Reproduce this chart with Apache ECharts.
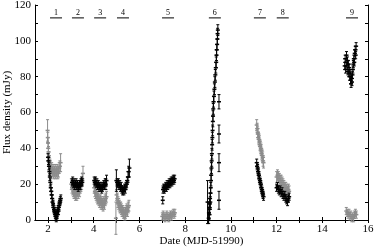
<!DOCTYPE html>
<html><head><meta charset="utf-8">
<script src="https://cdn.jsdelivr.net/npm/echarts@6/dist/echarts.min.js"></script>
<style>html,body{margin:0;padding:0;background:#fff}#c{width:374px;height:248px}</style>
</head><body><div id="c"></div>
<script>
// epoch labels
const epochLabels = ['1','2','3','4','5','6','7','8','9'];
const epochX = [2.35, 3.31, 4.28, 5.28, 7.25, 9.30, 11.27, 12.27, 15.30];
const xLabelValues = [2,4,6,8,10,12,14,16];
const xTickValues = [2,3,4,5,6,7,8,9,10,11,12,13,14,15,16];

// [date, flux, error] — black series
const black1 = [[2.00,35,2],[2.02,33,2],[2.04,30,2],[2.06,27,2],[2.08,24,2],[2.10,21,2],[2.12,18,2],[2.14,16,2],[2.16,14,2],[2.18,12,2],[2.20,10,2],[2.22,9,2],[2.24,7,2],[2.26,6,2],[2.28,5,2],[2.30,4,2],[2.32,3,2],[2.34,2,2],[2.36,1,2],[2.38,2,2],[2.40,3,2],[2.42,5,2],[2.44,6,2],[2.46,5,2],[2.48,8,2],[2.50,9,2],[2.52,10,2],[2.54,11,2],[2.56,12,2]];
const black2 = [[3.05,21,2],[3.08,22,2],[3.11,20,2],[3.14,21,2],[3.17,19,2],[3.20,20,2],[3.23,21,2],[3.26,19,2],[3.29,20,2],[3.32,18,2],[3.35,19,2],[3.38,20,2],[3.41,19,2],[3.44,21,2],[3.47,22,2],[3.50,21,2]];
const black3 = [[4.02,22,2],[4.05,21,2],[4.08,22,2],[4.11,20,2],[4.14,21,2],[4.17,19,2],[4.20,20,2],[4.23,18,2],[4.26,19,2],[4.29,18,2],[4.32,19,2],[4.35,17,2],[4.38,18,2],[4.41,19,2],[4.44,20,2],[4.47,19,2],[4.50,21,2],[4.53,20,3],[4.56,22,3]];
const black4 = [[4.99,22,6],[5.02,21,2],[5.05,20,2],[5.08,21,2],[5.11,19,2],[5.14,20,2],[5.17,18,2],[5.20,19,2],[5.23,17,2],[5.26,16,2],[5.29,17,2],[5.32,16,2],[5.35,18,2],[5.38,17,2],[5.41,19,2],[5.44,20,2],[5.47,22,2],[5.50,24,3],[5.53,27,3],[5.56,29,5]];
const black5 = [[7.02,11,2],[7.03,17,2],[7.06,18,2],[7.09,17,2],[7.12,18,2],[7.15,19,2],[7.18,18,2],[7.21,20,2],[7.24,19,2],[7.27,20,2],[7.30,21,2],[7.33,20,2],[7.36,21,2],[7.39,22,2],[7.42,21,2],[7.45,22,2],[7.48,23,2],[7.51,22,2],[7.54,23,2]];
const black6 = [[8.98,10,12],[9.03,1,3],[9.04,4,3],[9.05,7,3],[9.06,3,3],[9.07,9,3],[9.08,6,3],[9.09,12,3],[9.10,10,3],[9.11,15,3],[9.12,18,3],[9.13,22,3],[9.14,25,3],[9.15,29,3],[9.16,33,3],[9.17,37,3],[9.18,42,3],[9.19,46,3],[9.20,50,3],[9.21,55,3],[9.22,58,3],[9.23,62,3],[9.24,66,3],[9.26,69,3],[9.28,73,3],[9.30,77,3],[9.32,81,3],[9.34,85,3],[9.36,88,3],[9.37,92,3],[9.38,95,3],[9.40,98,3],[9.41,101,3],[9.42,104,3],[9.43,106,3],[9.48,66,4],[9.48,48,5],[9.48,32,5],[9.48,11,5]];
const black7 = [[11.13,32,2],[11.15,30,2],[11.17,29,2],[11.19,27,2],[11.21,26,2],[11.23,25,2],[11.25,23,2],[11.27,22,2],[11.29,21,2],[11.31,20,2],[11.33,18,2],[11.35,17,2],[11.37,16,2],[11.39,15,2],[11.41,14,2],[11.43,13,2]];
const black8 = [[12.00,18,2],[12.04,19,2],[12.08,17,2],[12.12,16,2],[12.16,17,2],[12.20,15,2],[12.24,16,2],[12.28,14,2],[12.32,13,2],[12.36,14,2],[12.40,12,2],[12.44,11,2],[12.48,10,2],[12.52,12,2],[12.55,13,2]];
const black9 = [[14.98,86,2],[15.00,90,2],[15.02,84,2],[15.04,88,2],[15.06,92,2],[15.08,86,2],[15.10,89,2],[15.12,83,2],[15.14,87,2],[15.16,82,2],[15.18,85,2],[15.20,80,2],[15.22,82,2],[15.24,78,2],[15.26,76,2],[15.28,79,2],[15.30,77,2],[15.32,81,2],[15.34,84,2],[15.36,87,2],[15.38,90,2],[15.40,88,2],[15.42,93,2],[15.44,95,2],[15.46,92,2],[15.48,97,2]];

// [date, flux, error] — grey series
const grey1 = [[1.98,50,6],[1.99,46,3],[2.00,43,3],[2.01,40,3],[2.02,38,3],[2.04,35,3],[2.06,33,3],[2.08,31,3],[2.10,30,3],[2.13,28,3],[2.16,29,3],[2.19,27,3],[2.22,28,3],[2.25,26,3],[2.28,27,3],[2.31,28,3],[2.34,26,3],[2.37,27,3],[2.40,28,3],[2.43,26,3],[2.46,27,3],[2.49,29,3],[2.52,30,3],[2.55,32,5]];
const grey2 = [[3.02,20,3],[3.05,18,3],[3.08,17,3],[3.11,16,3],[3.14,15,3],[3.17,15,3],[3.20,14,3],[3.23,15,3],[3.26,14,3],[3.29,16,3],[3.32,15,3],[3.35,17,3],[3.38,16,3],[3.41,18,3],[3.44,19,3],[3.47,20,3],[3.50,23,3],[3.53,26,4]];
const grey3 = [[4.02,18,3],[4.05,16,3],[4.08,15,3],[4.11,14,3],[4.14,13,3],[4.17,12,3],[4.20,12,3],[4.23,11,3],[4.26,10,3],[4.29,11,3],[4.32,9,3],[4.35,10,3],[4.38,9,3],[4.41,8,3],[4.44,10,3],[4.47,9,3],[4.50,11,3],[4.53,12,3],[4.56,13,3]];
const grey4 = [[4.97,1,9],[5.00,14,3],[5.03,12,3],[5.06,10,3],[5.09,9,3],[5.12,8,3],[5.15,7,3],[5.18,7,3],[5.21,6,3],[5.24,5,3],[5.27,5,3],[5.30,4,3],[5.33,4,3],[5.36,3,3],[5.39,4,3],[5.42,5,3],[5.45,6,3],[5.48,5,3],[5.51,7,3],[5.54,8,3]];
const grey5 = [[7.00,2,2],[7.04,3,2],[7.08,2,2],[7.12,1,2],[7.16,2,2],[7.20,3,2],[7.24,2,2],[7.28,1,2],[7.32,2,2],[7.36,3,2],[7.40,2,2],[7.44,3,2],[7.48,4,2],[7.52,3,2],[7.55,4,2]];
const grey7 = [[11.13,53,3],[11.15,51,3],[11.17,49,3],[11.19,48,3],[11.21,46,3],[11.23,45,3],[11.25,44,3],[11.27,42,3],[11.29,41,3],[11.31,40,3],[11.33,39,3],[11.35,37,3],[11.37,36,3],[11.39,35,3],[11.41,33,3],[11.43,32,3]];
const grey8 = [[12.00,24,3],[12.04,25,3],[12.08,24,3],[12.12,23,3],[12.16,22,3],[12.20,22,3],[12.24,21,3],[12.28,20,3],[12.32,19,3],[12.36,18,3],[12.40,18,3],[12.44,17,3],[12.48,16,3],[12.52,17,3],[12.55,16,3]];
const grey9 = [[15.05,5,2],[15.09,4,2],[15.13,3,2],[15.17,4,2],[15.21,2,2],[15.25,3,2],[15.29,1,2],[15.33,2,2],[15.37,1,2],[15.41,3,2],[15.45,4,2],[15.49,3,2]];

const blackAll = [].concat(black1,black2,black3,black4,black5,black6,black7,black8,black9);
const greyAll = [].concat(grey1,grey2,grey3,grey4,grey5,grey7,grey8,grey9);

const FONT = '"Liberation Serif", "DejaVu Serif", serif';

function errRender(params, api) {
  const x = api.value(0), y = api.value(1), e = api.value(2);
  const c = api.coord([x, y]);
  const t = api.coord([x, y + e]);
  const b = api.coord([x, y - e]);
  const color = api.visual('color');
  const st = {stroke: color, lineWidth: 1};
  return {type: 'group', children: [
    {type: 'line', shape: {x1: c[0], y1: t[1], x2: c[0], y2: b[1]}, style: st},
    {type: 'line', shape: {x1: c[0]-1.5, y1: t[1], x2: c[0]+1.5, y2: t[1]}, style: st},
    {type: 'line', shape: {x1: c[0]-1.5, y1: b[1], x2: c[0]+1.5, y2: b[1]}, style: st},
    {type: 'line', shape: {x1: c[0]-2, y1: c[1], x2: c[0]+2, y2: c[1]}, style: {stroke: color, lineWidth: 1.5}}
  ]};
}

function epochRender(params, api) {
  const x = api.value(0);
  const p = api.coord([x, 112.8]);
  return {type: 'group', children: [
    {type: 'line', shape: {x1: p[0]-6, y1: p[1], x2: p[0]+6, y2: p[1]}, style: {stroke: '#000', lineWidth: 1}},
    {type: 'text', x: p[0], y: p[1]-1, style: {text: epochLabels[params.dataIndex], font: '8px ' + FONT, fill: '#000', align: 'center', verticalAlign: 'bottom'}}
  ]};
}

const axisLine = {show: true, lineStyle: {color: '#000', width: 1}};
const chart = echarts.init(document.getElementById('c'), null, {renderer: 'canvas'});
chart.setOption({
  animation: false,
  backgroundColor: '#fff',
  grid: {left: 35, right: 6, top: 5, bottom: 28, containLabel: false, outerBoundsMode: 'none'},
  xAxis: [
    {type: 'value', min: 1.43, max: 16, position: 'bottom',
     name: 'Date (MJD-51990)', nameLocation: 'middle', nameGap: 16, nameMoveOverlap: false,
     nameTextStyle: {fontFamily: FONT, fontSize: 11, color: '#000', verticalAlign: 'top'},
     axisLine: axisLine, splitLine: {show: false},
     axisTick: {show: true, inside: true, length: 3, customValues: xTickValues, lineStyle: {color: '#000'}},
     axisLabel: {customValues: xLabelValues, fontFamily: FONT, fontSize: 11, color: '#000', margin: 4}},
    {type: 'value', min: 1.43, max: 16, position: 'top',
     axisLine: axisLine, splitLine: {show: false},
     axisTick: {show: true, inside: true, length: 3, customValues: xTickValues, lineStyle: {color: '#000'}},
     axisLabel: {show: false}}
  ],
  yAxis: [
    {type: 'value', min: 0, max: 120, interval: 10, position: 'left',
     name: 'Flux density (mJy)', nameLocation: 'middle', nameGap: 22, nameMoveOverlap: false,
     nameTextStyle: {fontFamily: FONT, fontSize: 11, color: '#000'},
     axisLine: axisLine, splitLine: {show: false},
     axisTick: {show: true, inside: true, length: 3, lineStyle: {color: '#000'}},
     axisLabel: {fontFamily: FONT, fontSize: 11, color: '#000', margin: 4,
       formatter: v => (v % 20 === 0 ? String(v) : '')}},
    {type: 'value', min: 0, max: 120, interval: 10, position: 'right',
     axisLine: axisLine, splitLine: {show: false},
     axisTick: {show: true, inside: true, length: 3, lineStyle: {color: '#000'}},
     axisLabel: {show: false}}
  ],
  series: [
    {type: 'custom', name: 'grey', clip: false, xAxisIndex: 0, yAxisIndex: 0,
     itemStyle: {color: '#8c8c8c'}, renderItem: errRender, data: greyAll, z: 2},
    {type: 'custom', name: 'black', clip: false, xAxisIndex: 0, yAxisIndex: 0,
     itemStyle: {color: '#000'}, renderItem: errRender, data: blackAll, z: 3},
    {type: 'custom', name: 'epochs', clip: false, xAxisIndex: 0, yAxisIndex: 0,
     renderItem: epochRender, data: epochX.map(v => [v]), z: 4}
  ]
});
</script>
</body></html>
